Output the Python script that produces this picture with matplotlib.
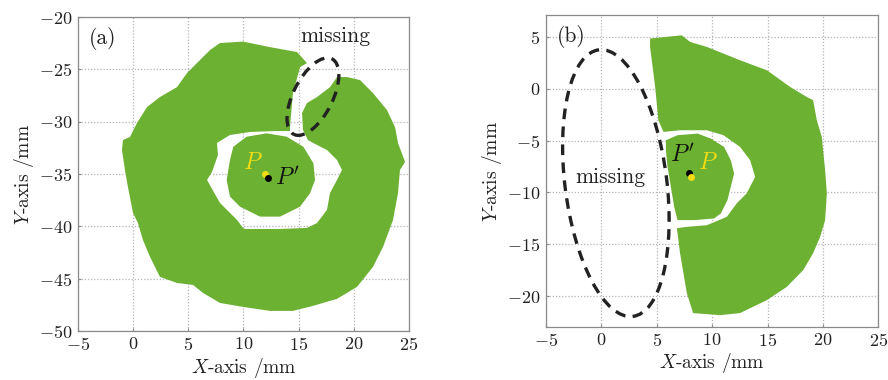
import matplotlib.pyplot as plt
from matplotlib.patches import Ellipse

plt.rcParams["font.family"] = "cmr10"
plt.rcParams["mathtext.fontset"] = "cm"
plt.rcParams["axes.formatter.use_mathtext"] = True
plt.rcParams["axes.unicode_minus"] = True

GREEN = "#6cb132"
YELLOW = "#f2dc14"
DARK = "#222222"

# panel (a): ring with a gap ("missing"), traced as one C-shaped outline
a_ring_x = [15.76, 14.86, 12.41, 9.96, 7.87, 6.97, 5.79, 4.88, 3.98, 2.43, 1.26, 0.35,
            -0.29, -0.92, -1.01, -0.74, -0.47, -0.01, 0.44, 0.89, 1.53, 2.43, 3.98, 5.43,
            6.33, 7.87, 9.96, 12.41, 14.49, 16.31, 18.48, 20.29, 21.74, 22.65, 23.56,
            24.01, 24.19, 24.65, 24.01, 23.74, 23.01, 21.74, 20.57, 19.39, 18.48, 17.85,
            16.67, 15.76, 15.31, 15.40, 15.85,
            16.31, 17.57, 18.48, 18.93, 18.48, 17.85, 17.57, 16.67, 15.76, 13.31, 10.14,
            9.96, 9.42, 7.87, 6.70, 7.15, 7.69, 7.60, 8.78, 10.59, 12.86, 14.22,
            14.22, 14.49, 15.13]
a_ring_y = [-24.39, -23.34, -22.87, -22.34, -22.48, -23.15, -24.39, -25.35, -26.69, -27.64,
            -28.60, -30.12, -31.46, -31.75, -32.70, -34.61, -36.24, -38.72, -39.68, -41.30,
            -42.92, -44.83, -45.41, -45.60, -46.36, -47.32, -47.70, -48.08, -48.08, -47.60,
            -46.93, -45.79, -43.88, -41.97, -39.39, -36.81, -34.61, -33.85, -32.03, -30.51,
            -28.88, -27.26, -26.02, -25.73, -25.73, -26.69, -27.64, -28.21, -29.17, -30.79,
            -31.75,
            -32.03, -32.70, -33.66, -34.61, -35.57, -36.81, -38.43, -39.68, -40.15, -40.25,
            -40.25, -40.15, -39.39, -37.76, -35.57, -34.80, -33.18, -32.03, -31.27, -30.98,
            -30.89, -30.89, -30.51, -27.26, -24.78]
a_core_x = [10.29, 12.11, 13.92, 15.43, 16.34, 16.49, 16.03, 15.13, 13.31, 11.50, 9.69,
            8.78, 8.48, 8.78, 9.08]
a_core_y = [-31.43, -31.11, -31.43, -32.39, -33.97, -35.57, -36.84, -38.12, -39.07, -39.07,
            -38.12, -37.16, -35.57, -33.66, -32.39]
a_P = (11.92, -34.97)
a_Pp = (12.22, -35.35)
a_missing_center = (16.3, -27.6)
a_missing_size = (3.6, 8.0)
a_missing_angle = -25

# panel (b): left half missing
b_ring_x = [4.39, 7.26, 8.01, 9.52, 12.52, 14.94, 17.04, 18.55, 19.12, 19.45, 19.90, 20.20,
            20.36, 20.20, 19.75, 19.12, 18.22, 16.74, 14.94, 12.52, 10.72, 8.28, 7.71,
            7.10, 6.81,
            7.71, 9.52, 11.32, 12.23, 13.13, 13.88, 13.43, 12.52, 11.02, 9.52, 7.10, 5.60,
            5.14, 4.85, 4.39]
b_ring_y = [4.85, 5.16, 4.52, 4.04, 2.75, 1.79, 0.18, -0.79, -1.10, -3.03, -4.64, -7.85,
            -10.07, -12.68, -14.29, -15.86, -17.50, -19.11, -20.39, -21.64, -21.84, -21.64,
            -19.72, -15.86, -13.45,
            -13.32, -13.16, -12.36, -11.04, -10.07, -8.50, -6.89, -5.61, -4.48, -4.00,
            -4.00, -4.16, -3.03, 0.18, 4.04]
b_core_x = [5.82, 6.87, 8.68, 9.88, 11.08, 11.68, 11.98, 11.68, 11.38, 10.78, 10.18, 8.38,
            6.87, 6.57, 6.27, 5.97, 5.82]
b_core_y = [-4.96, -4.48, -4.32, -4.81, -5.61, -6.89, -8.18, -9.46, -10.75, -12.03, -12.51,
            -12.67, -12.67, -11.39, -9.46, -7.53, -5.92]
b_P = (8.13, -8.5)
b_Pp = (7.92, -8.11)
b_missing_center = (1.3, -9.1)
b_missing_size = (9.2, 25.9)
b_missing_angle = 6.7

xticks = [-5, 0, 5, 10, 15, 20, 25]
a_yticks = [-50, -45, -40, -35, -30, -25, -20]
b_yticks = [-20, -15, -10, -5, 0, 5]


def style_axes(ax, xlim, ylim, yticks, xlab_y):
    ax.set_xlim(*xlim)
    ax.set_ylim(*ylim)
    ax.set_xticks(xticks)
    ax.set_yticks(yticks)
    ax.set_axisbelow(True)
    ax.grid(True, color="#b5b5b5", linestyle=(0, (1, 1.5)), linewidth=0.9)
    for s in ax.spines.values():
        s.set_color("#8a8a8a")
        s.set_linewidth(0.9)
    ax.tick_params(direction="in", length=2.5, color="#8a8a8a", labelsize=13,
                   labelcolor="#222222")
    ax.tick_params(axis="x", pad=3.5)
    ax.tick_params(axis="y", pad=4)
    ax.set_xlabel(r"$X$-axis /mm", fontsize=14, color="#222222")
    ax.set_ylabel(r"$Y$-axis /mm", fontsize=14, labelpad=2, color="#222222")
    ax.xaxis.label.set_va("center")
    ax.xaxis.set_label_coords(0.5, xlab_y)


fig = plt.figure(figsize=(8.88, 3.8), dpi=100)
ax1 = fig.add_axes([0.0878, 0.129, 0.3727, 0.826])
ax2 = fig.add_axes([0.615, 0.139, 0.374, 0.821])

# (a)
ax1.fill(a_ring_x, a_ring_y, color=GREEN, lw=0, zorder=2)
ax1.fill(a_core_x, a_core_y, color=GREEN, lw=0, zorder=2)
ax1.add_patch(Ellipse(a_missing_center, *a_missing_size, angle=a_missing_angle, fill=False,
                      ec=DARK, lw=2.4, ls=(0, (3.2, 2.2)), zorder=4))
ax1.plot(*a_P, "o", color=YELLOW, ms=4, zorder=5)
ax1.plot(*a_Pp, "o", color="black", ms=4, zorder=5)
ax1.text(10.9, -33.9, r"$P$", color=YELLOW, fontsize=17, ha="center", va="center")
ax1.text(12.9, -35.4, r"$P'$", color="#111111", fontsize=17, ha="left", va="center")
ax1.text(18.3, -21.8, "missing", fontsize=15.5, ha="center", va="center", color="#222222")
ax1.text(-2.8, -22.0, "(a)", fontsize=15.5, ha="center", va="center", color="#222222")
style_axes(ax1, (-5, 25), (-50, -20), a_yticks, -0.118)

# (b)
ax2.fill(b_ring_x, b_ring_y, color=GREEN, lw=0, zorder=2)
ax2.fill(b_core_x, b_core_y, color=GREEN, lw=0, zorder=2)
ax2.add_patch(Ellipse(b_missing_center, *b_missing_size, angle=b_missing_angle, fill=False,
                      ec=DARK, lw=2.4, ls=(0, (3.2, 2.2)), zorder=4))
ax2.plot(*b_Pp, "o", color="black", ms=4, zorder=5)
ax2.plot(*b_P, "o", color=YELLOW, ms=4, zorder=5)
ax2.text(7.3, -6.4, r"$P'$", color="#111111", fontsize=17, ha="center", va="center")
ax2.text(9.6, -7.2, r"$P$", color=YELLOW, fontsize=17, ha="center", va="center")
ax2.text(0.8, -8.5, "missing", fontsize=15.5, ha="center", va="center", color="#222222")
ax2.text(-2.7, 5.0, "(b)", fontsize=15.5, ha="center", va="center", color="#222222")
style_axes(ax2, (-5, 25), (-23, 7.1), b_yticks, -0.115)

fig.savefig("out.png", dpi=100)
